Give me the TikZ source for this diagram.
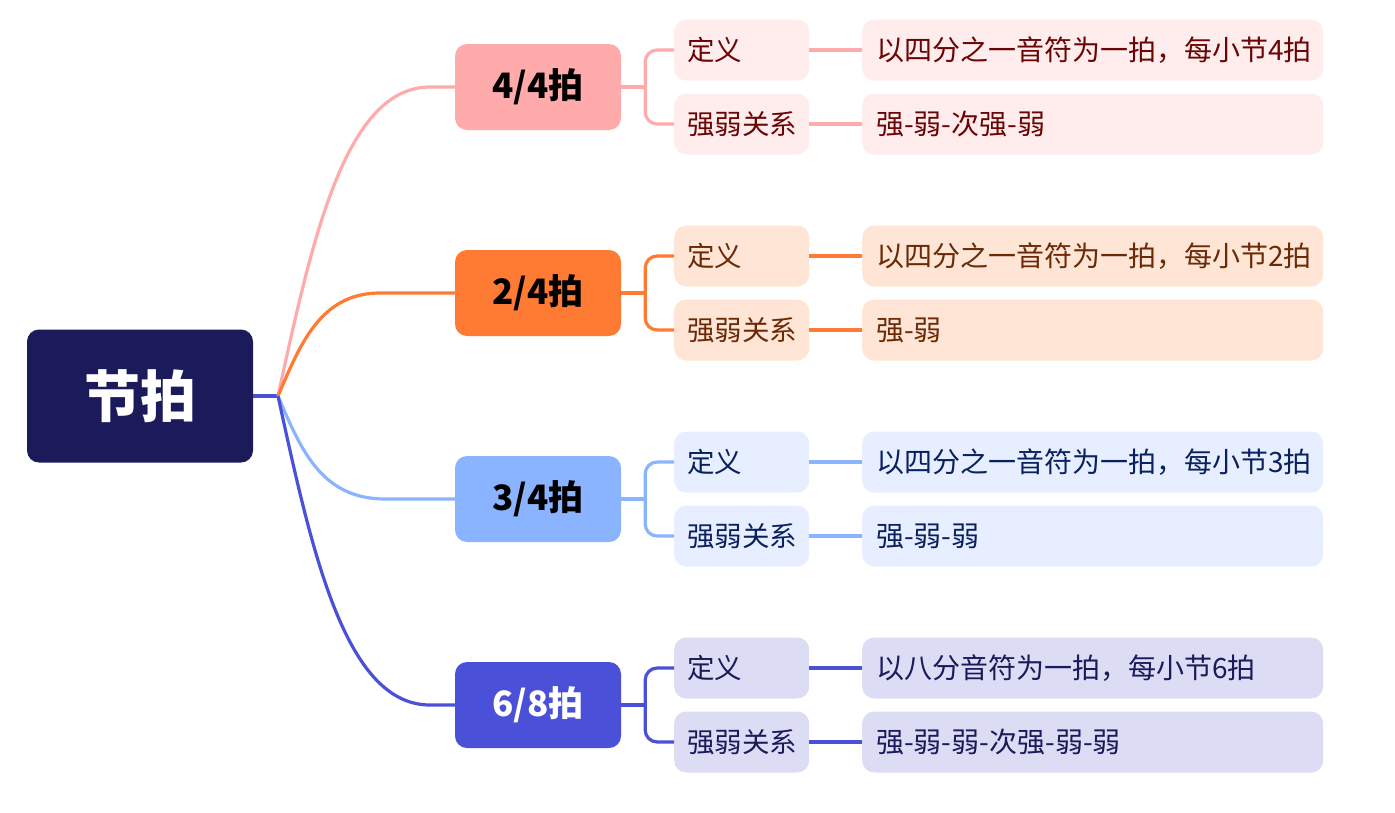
\documentclass[tikz,border=0pt]{standalone}
\usepackage{fontspec}
\setmainfont{Noto Sans CJK SC}
\usetikzlibrary{calc}
\definecolor{rootc}{HTML}{1B1A5A}
\definecolor{ga}{HTML}{FFABAB}
\definecolor{gaf}{HTML}{FFEDED}
\definecolor{gat}{HTML}{6B0505}
\definecolor{gb}{HTML}{FF7A33}
\definecolor{gbf}{HTML}{FFE5D6}
\definecolor{gbt}{HTML}{6B2A05}
\definecolor{gc}{HTML}{8AB4FF}
\definecolor{gcf}{HTML}{E6EEFF}
\definecolor{gct}{HTML}{0A2160}
\definecolor{gd}{HTML}{4A50D8}
\definecolor{gdf}{HTML}{DCDCF5}
\definecolor{gdt}{HTML}{1B1A5A}
\tikzset{
  rootbox/.style={fill=rootc, rounded corners=12pt, minimum width=226pt, minimum height=133pt, text=white, inner sep=0pt, font=\fontsize{56}{60}\selectfont\bfseries},
  lvone/.style={rounded corners=12pt, minimum width=166pt, minimum height=86pt, inner sep=0pt, font=\fontsize{35}{40}\selectfont\bfseries},
  lvtwo/.style={rounded corners=12pt, anchor=west, text width=109pt, inner xsep=13pt, inner ysep=0pt, minimum height=61pt, align=left, font=\fontsize{27.5}{32}\selectfont},
  leafbox/.style={rounded corners=12pt, anchor=west, text width=433pt, inner xsep=14pt, inner ysep=0pt, minimum height=61pt, align=left, font=\fontsize{28}{32}\selectfont},
  link/.style={line width=3.2pt}
}
\begin{document}
\begin{tikzpicture}[x=1pt,y=-1pt]
\useasboundingbox (0,0) rectangle (1395,812);
% root
\node[rootbox] (root) at (140,396) {节拍};
\coordinate (J) at (278,396);
% level one
\node[lvone, fill=ga] (b1) at (538,87) {4/4拍};
\node[lvone, fill=gb] (b2) at (538,293) {2/4拍};
\node[lvone, fill=gc] (b3) at (538,499) {3/4拍};
\node[lvone, fill=gd, text=white] (b4) at (538,705) {6/8拍};
% level two
\node[lvtwo, fill=gaf, text=gat] (d1) at (674,50) {定义};
\node[lvtwo, fill=gaf, text=gat] (s1) at (674,124) {强弱关系};
\node[lvtwo, fill=gbf, text=gbt] (d2) at (674,256) {定义};
\node[lvtwo, fill=gbf, text=gbt] (s2) at (674,330) {强弱关系};
\node[lvtwo, fill=gcf, text=gct] (d3) at (674,462) {定义};
\node[lvtwo, fill=gcf, text=gct] (s3) at (674,536) {强弱关系};
\node[lvtwo, fill=gdf, text=gdt] (d4) at (674,668) {定义};
\node[lvtwo, fill=gdf, text=gdt] (s4) at (674,742) {强弱关系};
% leaves
\node[leafbox, fill=gaf, text=gat] (ld1) at (862,50) {以四分之一音符为一拍，每小节4拍};
\node[leafbox, fill=gaf, text=gat] (ls1) at (862,124) {强-弱-次强-弱};
\node[leafbox, fill=gbf, text=gbt] (ld2) at (862,256) {以四分之一音符为一拍，每小节2拍};
\node[leafbox, fill=gbf, text=gbt] (ls2) at (862,330) {强-弱};
\node[leafbox, fill=gcf, text=gct] (ld3) at (862,462) {以四分之一音符为一拍，每小节3拍};
\node[leafbox, fill=gcf, text=gct] (ls3) at (862,536) {强-弱-弱};
\node[leafbox, fill=gdf, text=gdt] (ld4) at (862,668) {以八分音符为一拍，每小节6拍};
\node[leafbox, fill=gdf, text=gdt] (ls4) at (862,742) {强-弱-弱-次强-弱-弱};
% root connectors
\draw[link, gd] (root.east) -- (J);
\draw[link, ga] (J) .. controls (312,240) and (345,87) .. (430,87) -- (b1.west);
\draw[link, gb] (J) .. controls (300,345) and (320,293) .. (380,293) -- (b2.west);
\draw[link, gc] (J) .. controls (300,447) and (320,499) .. (385,499) -- (b3.west);
\draw[link, gd] (J) .. controls (312,552) and (345,705) .. (430,705) -- (b4.west);
% brackets
\foreach \i/\c in {1/ga,2/gb,3/gc,4/gd}{
  \draw[link, \c] (b\i.east) -- ++(24,0);
  \draw[link, \c, rounded corners=12pt] (d\i.west) -| ($(b\i.east)+(24,0)$) |- (s\i.west);
  \draw[link, \c] (d\i.east) -- (ld\i.west);
  \draw[link, \c] (s\i.east) -- (ls\i.west);
}
\end{tikzpicture}
\end{document}
